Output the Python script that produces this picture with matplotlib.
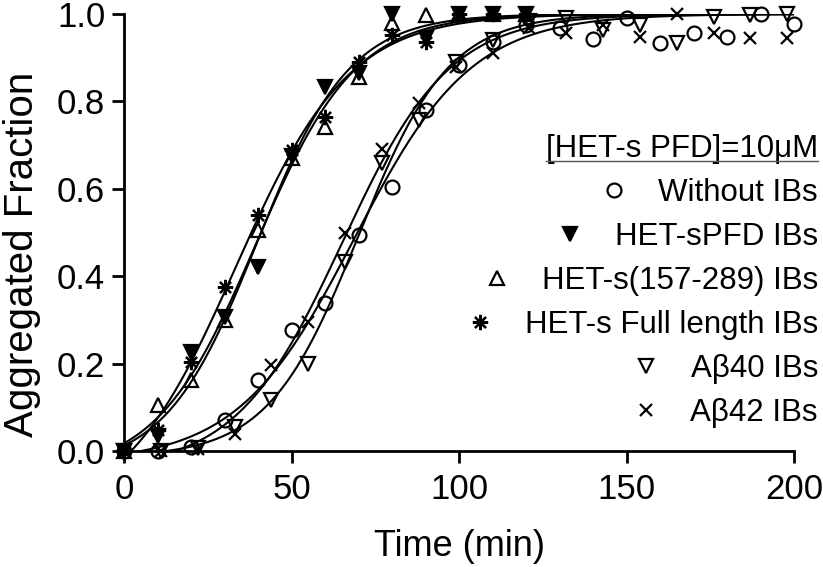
import numpy as np
import matplotlib
matplotlib.use('Agg')
import matplotlib.pyplot as plt
from matplotlib.lines import Line2D

plt.rcParams['font.family'] = ['Liberation Sans', 'DejaVu Sans']

# ---------------- data ----------------
time_without = [0, 10, 20, 30, 40, 50, 60, 70, 80, 90, 100, 110, 120, 130, 140, 150, 160, 170, 180, 190, 200]
frac_without = [0.0, 0.0, 0.009, 0.071, 0.163, 0.277, 0.338, 0.494, 0.603, 0.780, 0.883, 0.937, 0.975,
                0.968, 0.943, 0.990, 0.934, 0.957, 0.948, 1.000, 0.977]

time_het = [0, 10, 20, 30, 40, 50, 60, 70, 80, 90, 100, 110, 120]
frac_hetspfd = [0.0, 0.035, 0.227, 0.307, 0.420, 0.675, 0.834, 0.865, 1.000, 0.945, 1.000, 1.000, 1.000]
frac_het157 = [0.0, 0.105, 0.162, 0.300, 0.506, 0.670, 0.742, 0.855, 0.980, 0.998, 1.000, 1.000, 1.000]
frac_hetfull = [0.0, 0.048, 0.204, 0.376, 0.540, 0.689, 0.765, 0.890, 0.952, 0.937, 1.000, 1.000, 1.000]

time_abeta = [0, 11, 22, 33, 44, 55, 66, 77, 88, 99, 110, 121, 132, 143, 154, 165, 176, 187, 198]
frac_ab40 = [0.0, 0.0, 0.006, 0.056, 0.117, 0.200, 0.433, 0.658, 0.757, 0.891, 0.940, 0.983, 0.990,
             0.963, 0.975, 0.933, 0.994, 0.998, 1.000]
frac_ab42 = [0.0, 0.0, 0.005, 0.040, 0.197, 0.296, 0.498, 0.690, 0.797, 0.879, 0.910, 0.967, 0.956,
             0.975, 0.947, 1.000, 0.957, 0.945, 0.944]

labels = ['Without IBs', 'HET-sPFD IBs', 'HET-s(157-289) IBs', 'HET-s Full length IBs',
          'A\u03b240 IBs', 'A\u03b242 IBs']
legend_title = '[HET-s PFD]=10\u03bcM'
x_ticks = [0, 50, 100, 150, 200]
y_ticks = [0.0, 0.2, 0.4, 0.6, 0.8, 1.0]


# ---------------- Boltzmann sigmoid fit (top fixed at 1, least squares) ----------------
def fit_boltzmann(t, y):
    t = np.asarray(t, float)
    y = np.asarray(y, float)
    v50 = np.arange(10, 120, 0.2)[:, None, None]
    slope = np.arange(3, 35, 0.1)[None, :, None]
    f = 1.0 / (1.0 + np.exp((v50 - t[None, None, :]) / slope))
    g = 1.0 - f
    bottom = (g * (y - f)).sum(-1) / (g * g).sum(-1)
    pred = bottom[..., None] * g + f
    sse = ((pred - y) ** 2).sum(-1)
    i, j = np.unravel_index(np.argmin(sse), sse.shape)
    return bottom[i, j], 1.0, v50[i, 0, 0], slope[0, j, 0]


def boltzmann(t, bottom, top, v50, slope):
    return bottom + (top - bottom) / (1.0 + np.exp((v50 - t) / slope))


W, H = 823, 567
fig = plt.figure(figsize=(W / 100, H / 100), dpi=100)
ax = fig.add_axes([124 / W, 1 - 451 / H, (794 - 124) / W, (451 - 14) / H])

FS_TICK = 25
FS_LEG = 22.5
series = [
    (time_without, frac_without, dict(marker='o', mfc='none', ms=10)),
    (time_het, frac_hetspfd, dict(marker='v', mfc='black', ms=10)),
    (time_het, frac_het157, dict(marker='^', mfc='none', ms=10)),
    (time_het, frac_hetfull, dict(marker=(8, 2, 0), ms=11)),
    (time_abeta, frac_ab40, dict(marker='v', mfc='none', ms=10)),
    (time_abeta, frac_ab42, dict(marker='x', ms=9)),
]

tt = np.linspace(0, 200, 400)
handles = []
for (t, y, mk) in series:
    p = fit_boltzmann(t, y)
    ax.plot(tt, boltzmann(tt, *p), color='black', lw=1.5, zorder=2)
    h, = ax.plot(t, y, ls='none', color='black', mec='black', mew=1.6, clip_on=False, zorder=3, **mk)
    handles.append(h)

ax.set_xlim(0, 200)
ax.set_ylim(0, 1.0)
ax.set_xticks(x_ticks)
ax.set_xticklabels([str(v) for v in x_ticks])
ax.set_yticks(y_ticks)
ax.set_yticklabels(['%.1f' % v for v in y_ticks])
for s in ['top', 'right']:
    ax.spines[s].set_visible(False)
for s in ['left', 'bottom']:
    ax.spines[s].set_linewidth(2.0)
ax.tick_params(direction='out', length=8.5, width=2.0, labelsize=FS_TICK, pad=5)
ax.tick_params(axis='x', pad=7)
ax.set_xlabel('Time (min)', fontsize=26)
ax.xaxis.set_label_coords(0.5, -(567 - 451 - 20) / 437 + 0.0, transform=ax.transAxes)
ax.set_ylabel('Aggregated Fraction', fontsize=29)
ax.yaxis.set_label_coords(-(124 - 22) / 670, 0.45, transform=ax.transAxes)
ax.xaxis.label.set_va('center')
ax.yaxis.label.set_va('center')

leg = ax.legend(handles, labels, title=legend_title, loc='upper right',
                bbox_to_anchor=(818 / W, 1 - 134 / H), bbox_transform=fig.transFigure,
                frameon=False, fontsize=FS_LEG, title_fontsize=FS_LEG, handlelength=0.95,
                handletextpad=0.95, labelspacing=0.45, borderpad=0, borderaxespad=0,
                alignment='right')
for vp in leg._legend_handle_box.get_children():
    vp.align = 'right'

fig.canvas.draw()
bb = leg.get_title().get_window_extent(fig.canvas.get_renderer())
uy = (bb.y0 + 3) / H
fig.add_artist(Line2D([bb.x0 / W, bb.x1 / W], [uy, uy], transform=fig.transFigure,
                      color='#555555', lw=1.0))

fig.savefig('out.png', dpi=100)
